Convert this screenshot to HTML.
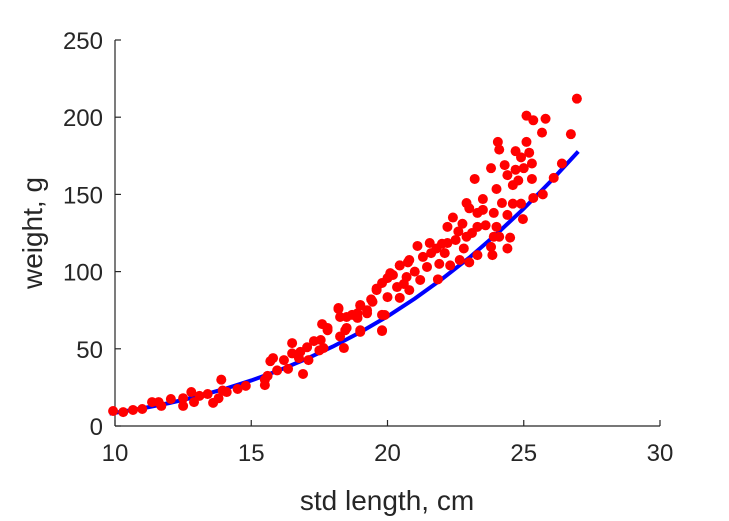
<!DOCTYPE html>
<html><head><meta charset="utf-8"><style>
body{margin:0;background:#fff;}
svg{display:block;font-family:"Liberation Sans",sans-serif;}
</style></head><body>
<svg id="chart" width="729" height="521">
<g id="axes"></g>
<g id="curve"></g>
<g id="pts"></g>
<text x="387" y="510" font-size="28" text-anchor="middle" fill="#262626">std length, cm</text>
<text transform="translate(42,233) rotate(-90)" font-size="28" text-anchor="middle" fill="#262626">weight, g</text>
</svg>
<script>
const xTicks=[10,15,20,25,30];
const yTicks=[0,50,100,150,200,250];
const fitLen=[9.8,11,12,13,14,15,16,17,18,19,20,21,22,23,24,25,26,27];
const fitWt=[8,11.4,14.9,19,23.9,29.5,35.9,43.3,51.5,60.7,71,82.5,95.2,109,124.3,140.8,158.7,177.8];
const lenData=[9.93,10.3,10.66,11.0,11.36,11.6,11.7,12.05,12.5,12.5,12.8,12.9,13.1,13.4,13.6,13.8,13.9,13.95,14.1,14.5,14.8,15.5,15.5,15.6,15.8,15.7,15.95,16.2,16.35,16.5,16.5,16.75,16.9,17.05,17.1,17.5,17.65,17.55,17.6,17.8,18.2,18.26,18.4,18.45,18.5,18.9,19.0,19.0,19.25,19.6,19.8,19.9,20.0,20.2,20.45,20.75,
26.95,26.73,25.1,25.8,25.35,25.67,24.05,24.1,25.1,24.7,25.2,24.9,25.3,23.8,24.3,24.7,25.0,24.4,24.8,24.6,25.3,23.2,26.4,26.1,25.7,25.35,24.0,23.5,22.9,24.2,24.6,24.9,23.9,24.4,24.97,23.3,23.0,22.4,22.75,22.2,23.3,24.0,23.9,24.1,24.5,24.4,23.8,23.85,22.9,22.5,22.2,23.3,23.0,22.65,22.3,21.85,21.1,21.55,21.8,21.3,20.8,21.45,21.2,20.45,20.7,20.1,19.8,20.35,20.8,19.6,20.0,20.45,19.45,19.0,19.25,19.8,18.2,18.26,18.9,18.5,19.0,19.8,17.8,
21.6,22.0,21.0,22.6,23.6,20.6,21.9,22.8,23.5,19.4,18.7,17.3,16.8,22.1,23.1];
const wtData=[9.7,9,10.4,11,15.5,15.5,13,17.5,18,13,22,15.5,19.5,20.7,15,18,30,23,22,24,26,26.5,30,32.5,44,42,36,42.7,37,53.7,47,44,33.7,51,42.7,49,50.5,55.7,66,62,75.8,58,50.5,62,70.6,73,62,78,75,89,61.5,71.9,95.8,97.8,104,106,
212,189,201,199,198,190,184,179,184,178,177,174,170,167,169,166,167,162.5,159,156,160,160,170,160.7,150,147.7,153.5,147,144.4,144.4,144,144,138,136.7,134,138,141,135,131,129,129,129,122.6,122.6,122,115,116,110.7,122.6,120.5,118.5,110.7,106,107.5,104,95,116.6,118.5,115,109.5,107.5,103,94.6,104,96.5,99,92.6,90,88,88,83.5,83,80.5,78.4,73,72,76.4,70.6,70,63.5,61,62,63.5,
112,118,100,126,130,92,105,115,140,82,72,55,48,112,125];
const X0=115,X1=660,Y0=426,Y1=40;
const xs=v=>X0+(v-10)/20*(X1-X0);
const ys=v=>Y0-v/250*(Y0-Y1);
const NS="http://www.w3.org/2000/svg";
function mk(t,a,p){const e=document.createElementNS(NS,t);for(const k in a)e.setAttribute(k,a[k]);p.appendChild(e);return e;}
const ax=document.getElementById('axes');
let l=mk('line',{x1:X0,y1:Y0,x2:X1,y2:Y0,stroke:'#262626','stroke-width':1.2},ax);


l=mk('line',{x1:X0,y1:Y0,x2:X0,y2:Y1,stroke:'#262626','stroke-width':1.2},ax);


xTicks.forEach(v=>{
 const t=mk('line',{x1:xs(v),y1:Y0,x2:xs(v),y2:Y0-6,stroke:'#262626','stroke-width':1.2},ax);
 
 
 const tx=mk('text',{x:xs(v),y:Y0+35,'font-size':24,'text-anchor':'middle',fill:'#262626'},ax);
 tx.textContent=v;
 
 
});
yTicks.forEach(v=>{
 const t=mk('line',{x1:X0,y1:ys(v),x2:X0+6,y2:ys(v),stroke:'#262626','stroke-width':1.2},ax);
 
 
 const tx=mk('text',{x:X0-12,y:ys(v)+9,'font-size':24,'text-anchor':'end',fill:'#262626'},ax);
 tx.textContent=v;
 
 
});
const cg=document.getElementById('curve');
const pl=mk('polyline',{points:fitLen.map((v,i)=>xs(v)+','+ys(fitWt[i])).join(' '),fill:'none',stroke:'#0000ff','stroke-width':4},cg);


const pg=document.getElementById('pts');
lenData.forEach((v,i)=>{
 const c=mk('circle',{cx:xs(v),cy:ys(wtData[i]),r:5,fill:'#ff0000'},pg);
 
 
});
</script>
</body></html>
